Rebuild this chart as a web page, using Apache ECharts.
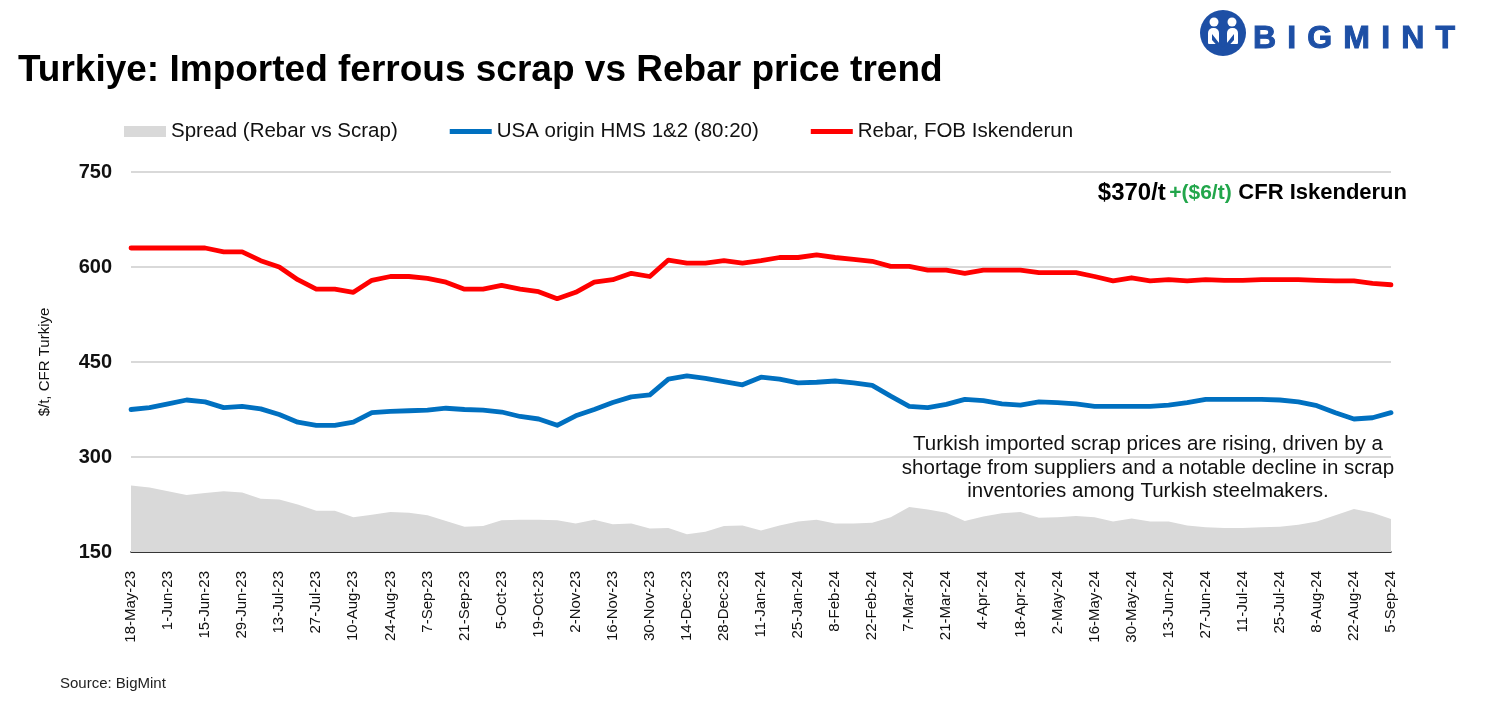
<!DOCTYPE html>
<html>
<head>
<meta charset="utf-8">
<script src="https://cdn.jsdelivr.net/npm/echarts@6/dist/echarts.min.js"></script>
<style>
html,body{margin:0;padding:0;background:#fff;}
#main{width:1491px;height:728px;}
</style>
</head>
<body>
<div id="main"></div>
<script>
// ---- data (weekly) ----
const categories = [
 '18-May-23','25-May-23','1-Jun-23','8-Jun-23','15-Jun-23','22-Jun-23','29-Jun-23','6-Jul-23','13-Jul-23','20-Jul-23',
 '27-Jul-23','3-Aug-23','10-Aug-23','17-Aug-23','24-Aug-23','31-Aug-23','7-Sep-23','14-Sep-23','21-Sep-23','28-Sep-23',
 '5-Oct-23','12-Oct-23','19-Oct-23','26-Oct-23','2-Nov-23','9-Nov-23','16-Nov-23','23-Nov-23','30-Nov-23','7-Dec-23',
 '14-Dec-23','21-Dec-23','28-Dec-23','4-Jan-24','11-Jan-24','18-Jan-24','25-Jan-24','1-Feb-24','8-Feb-24','15-Feb-24',
 '22-Feb-24','29-Feb-24','7-Mar-24','14-Mar-24','21-Mar-24','28-Mar-24','4-Apr-24','11-Apr-24','18-Apr-24','25-Apr-24',
 '2-May-24','9-May-24','16-May-24','23-May-24','30-May-24','6-Jun-24','13-Jun-24','20-Jun-24','27-Jun-24','4-Jul-24',
 '11-Jul-24','18-Jul-24','25-Jul-24','1-Aug-24','8-Aug-24','15-Aug-24','22-Aug-24','29-Aug-24','5-Sep-24'
];
const rebarFOB = [
 630,630,630,630,630,624,624,610,600,580,
 565,565,560,579,585,585,582,576,565,565,
 571,565,561,550,560,576,580,590,585,611,
 606,606,610,606,610,615,615,619,615,612,
 609,601,601,595,595,590,595,595,595,591,
 591,591,585,578,583,578,580,578,580,579,
 579,580,580,580,579,578,578,574,572
];
const usaHMS = [
 375,378,384,390,387,378,380,376,367,355,
 350,350,355,370,372,373,374,377,375,374,
 371,364,360,350,365,375,386,395,398,423,
 428,424,419,414,426,423,417,418,420,417,
 413,396,380,378,383,391,389,384,382,387,
 386,384,380,380,380,380,382,386,391,391,
 391,391,390,387,381,370,360,362,370
];
const spread = [
 255,252,246,240,243,246,244,234,233,225,
 215,215,205,209,213,212,208,199,190,191,
 200,201,201,200,195,201,194,195,187,188,
 178,182,191,192,184,192,198,201,195,195,
 196,205,221,217,212,199,206,211,213,204,
 205,207,205,198,203,198,198,192,189,188,
 188,189,190,193,198,208,218,212,202
];
const yTicks = {min:150, max:750, interval:150};
const seriesNames = ['Spread (Rebar vs Scrap)','USA origin HMS 1&2 (80:20)','Rebar, FOB Iskenderun'];

const FONT = 'Liberation Sans, Arial, sans-serif';

// logo letters positions
function logoLetters(){
  const letters = 'BIGMINT'.split('');
  const c = document.createElement('canvas').getContext('2d');
  c.font = 'bold 32px ' + FONT;
  const widths = letters.map(l => c.measureText(l).width);
  const total = widths.reduce((a,b)=>a+b,0);
  const startX = 1253, endX = 1455;
  const gap = (endX - startX - total) / (letters.length - 1);
  let x = startX;
  return letters.map((l,i) => {
    const el = {type:'text', x: x, y: 39, style:{text:l, fill:'#1d4fa5', font:'900 32px ' + FONT, verticalAlign:'middle', stroke:'#1d4fa5', lineWidth:1}};
    x += widths[i] + gap;
    return el;
  });
}

const chart = echarts.init(document.getElementById('main'), null, {renderer:'canvas'});
const option = {
  animation: false,
  backgroundColor: '#ffffff',
  title: {
    text: 'Turkiye: Imported ferrous scrap vs Rebar price trend',
    left: 13, top: 47,
    textStyle: {fontFamily: FONT, fontSize: 37, fontWeight: 'bold', color: '#000'}
  },
  legend: {
    left: 119, top: 116,
    itemWidth: 42, itemHeight: 11, itemGap: 52,
    textStyle: {fontFamily: FONT, fontSize: 20.5, color: '#111'},
    data: [
      {name: seriesNames[0], icon: 'rect'},
      {name: seriesNames[1], icon: 'path://M0,0 L42,0 L42,5 L0,5 Z'},
      {name: seriesNames[2], icon: 'path://M0,0 L42,0 L42,5 L0,5 Z'}
    ]
  },
  grid: {left: 131, right: 100, top: 172, bottom: 176, containLabel: false},
  xAxis: {
    type: 'category',
    data: categories,
    boundaryGap: false,
    axisLine: {show: true, lineStyle: {color: '#000', width: 1.5}},
    axisTick: {show: false},
    axisLabel: {interval: 1, rotate: 90, fontFamily: FONT, fontSize: 15, color: '#111', margin: 19}
  },
  yAxis: {
    type: 'value',
    min: yTicks.min, max: yTicks.max, interval: yTicks.interval,
    name: '$/t, CFR Turkiye',
    nameLocation: 'middle', nameRotate: 90, nameGap: 79,
    nameTextStyle: {fontFamily: FONT, fontSize: 15, color: '#111'},
    axisLine: {show: false}, axisTick: {show: false},
    axisLabel: {fontFamily: FONT, fontSize: 20, fontWeight: 'bold', color: '#111', margin: 19},
    splitLine: {lineStyle: {color: '#d9d9d9', width: 1.8}}
  },
  series: [
    {
      name: seriesNames[0], type: 'line', data: spread,
      color: '#d9d9d9',
      showSymbol: false, symbol: 'none',
      lineStyle: {width: 0},
      areaStyle: {color: '#d9d9d9', opacity: 1, origin: 'start'},
      z: 1
    },
    {
      name: seriesNames[1], type: 'line', data: usaHMS,
      color: '#0070c0',
      showSymbol: false, symbol: 'none',
      lineStyle: {width: 4.8, color: '#0070c0', cap: 'round', join: 'round'},
      z: 3
    },
    {
      name: seriesNames[2], type: 'line', data: rebarFOB,
      color: '#ff0000',
      showSymbol: false, symbol: 'none',
      lineStyle: {width: 4.8, color: '#ff0000', cap: 'round', join: 'round'},
      z: 4
    }
  ],
  graphic: [
    {type:'text', right: 84, top: 181, style:{
      text: '{p|$370/t} {b|+($6/t)}  {a|CFR Iskenderun}',
      rich: {
        p: {fontFamily: FONT, fontSize: 24, fontWeight: 'bold', fill: '#000'},
        a: {fontFamily: FONT, fontSize: 22, fontWeight: 'bold', fill: '#000'},
        b: {fontFamily: FONT, fontSize: 21, fontWeight: 'bold', fill: '#22a64b'}
      }
    }},
    {type:'text', x: 1148, y: 433, style:{
      text: 'Turkish imported scrap prices are rising, driven by a\nshortage from suppliers and a notable decline in scrap\ninventories among Turkish steelmakers.',
      fill: '#111', font: '20.5px ' + FONT, align: 'center', verticalAlign: 'top', lineHeight: 23.5
    }},
    {type:'text', x: 60, y: 684, style:{text:'Source: BigMint', fill:'#222', font:'15px ' + FONT, verticalAlign:'middle'}},
    // logo icon
    {type:'circle', shape:{cx:1223, cy:33, r:23}, style:{fill:'#1d4fa5'}},
    {type:'circle', shape:{cx:1214, cy:22, r:4.5}, style:{fill:'#fff'}},
    {type:'circle', shape:{cx:1232, cy:22, r:4.5}, style:{fill:'#fff'}},
    {type:'rect', shape:{x:1208, y:28, width:11, height:16, r:[5,5,1,1]}, style:{fill:'#fff'}},
    {type:'rect', shape:{x:1227, y:28, width:11, height:16, r:[5,5,1,1]}, style:{fill:'#fff'}},
    {type:'polygon', shape:{points:[[1212,34],[1223,48],[1234,34],[1234,40],[1223,52],[1212,40]]}, style:{fill:'#1d4fa5'}},
    {type:'rect', shape:{x:1221.5, y:28, width:3, height:18}, style:{fill:'#1d4fa5'}}
  ].concat(logoLetters())
};
chart.setOption(option);
</script>
</body>
</html>
